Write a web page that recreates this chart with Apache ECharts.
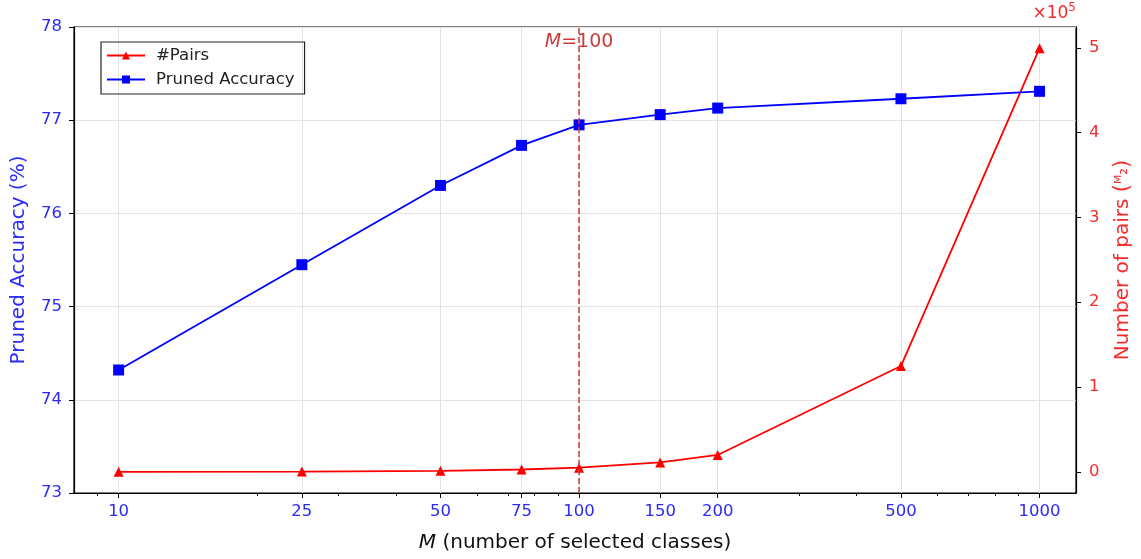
<!DOCTYPE html>
<html><head><meta charset="utf-8">
<script src="https://cdn.jsdelivr.net/npm/echarts@6/dist/echarts.min.js"></script>
<style>html,body{margin:0;padding:0;background:#fff}#c{width:1141px;height:559px}</style>
</head><body><div id="c"></div>
<script>
const M_VALUES = [10, 25, 50, 75, 100, 150, 200, 500, 1000];
const ACCURACY = [74.32, 75.45, 76.30, 76.73, 76.95, 77.06, 77.13, 77.23, 77.31];
const PAIRS = [45, 300, 1225, 2775, 4950, 11175, 19900, 124750, 499500];
const X_TICKS = [10, 25, 50, 75, 100, 150, 200, 500, 1000];
const X_MINOR = [9, 20, 30, 40, 60, 70, 80, 90, 300, 400, 600, 700, 800, 900];
const ACC_TICKS = [73, 74, 75, 76, 77, 78];
const PAIR_TICKS = [0, 100000, 200000, 300000, 400000, 500000];
const MARK_M = 100;

const FONT = 'DejaVu Sans';
const BLUE = '#0000ff';
const BLUE_TEXT = '#2b2bf5';
const RED = '#ff0000';
const RED_TEXT = '#f52b2b';
const MARK_COLOR = '#cc3c3c';
const TICK_FS = 16.5;
const TITLE_FS = 20;

const chart = echarts.init(document.getElementById('c'), null, {renderer: 'canvas'});

const accData = M_VALUES.map((m, i) => [m, ACCURACY[i]]);
const pairData = M_VALUES.map((m, i) => [m, PAIRS[i]]);

const option = {
  animation: false,
  textStyle: {fontFamily: FONT},
  grid: {left: 74, right: 64, top: 27, bottom: 66, show: true, borderColor: '#000', borderWidth: 1.2, containLabel: false},
  legend: {
    orient: 'vertical', left: 101, top: 42,
    data: ['#Pairs', 'Pruned Accuracy'],
    borderColor: '#222', borderWidth: 1.2, borderRadius: 0,
    padding: [5, 10, 6, 5], itemGap: 7,
    itemWidth: 38, itemHeight: 10,
    textStyle: {fontFamily: FONT, fontSize: TICK_FS, color: '#222', padding: [0, 0, 0, 6]}
  },
  xAxis: [{
    type: 'log', logBase: 10, min: 8, max: 1200, gridIndex: 0,
    name: '{i|M} (number of selected classes)', nameLocation: 'middle', nameGap: 40,
    nameTextStyle: {fontFamily: FONT, fontSize: TITLE_FS, color: '#111',
      rich: {i: {fontFamily: FONT, fontSize: TITLE_FS, fontStyle: 'italic', color: '#111'}}},
    axisLine: {show: true, onZero: false, lineStyle: {color: '#000', width: 1.2}},
    axisTick: {show: true, length: 5, lineStyle: {color: '#000'}, customValues: X_TICKS},
    axisLabel: {show: true, color: BLUE_TEXT, fontSize: TICK_FS, fontFamily: FONT, margin: 10, customValues: X_TICKS,
      formatter: v => String(Math.round(v))},
    splitLine: {show: true, lineStyle: {color: '#e3e3e3', width: 1}},
    minorTick: {show: false}, minorSplitLine: {show: false}
  }, {
    type: 'log', logBase: 10, min: 8, max: 1200, gridIndex: 0, position: 'bottom',
    axisLine: {show: false, onZero: false},
    axisTick: {show: true, length: 3, lineStyle: {color: '#000'}, customValues: X_MINOR},
    axisLabel: {show: false},
    splitLine: {show: false}
  }],
  yAxis: [{
    type: 'value', min: 73, max: 78, interval: 1, position: 'left',
    name: 'Pruned Accuracy (%)', nameLocation: 'middle', nameGap: 45, nameRotate: 90,
    nameTextStyle: {fontFamily: FONT, fontSize: TITLE_FS, color: BLUE_TEXT},
    axisLine: {show: true, onZero: false, lineStyle: {color: '#000', width: 1.2}},
    axisTick: {show: true, length: 5, lineStyle: {color: '#000'}},
    axisLabel: {color: BLUE_TEXT, fontSize: TICK_FS, fontFamily: FONT, margin: 12},
    splitLine: {show: true, lineStyle: {color: '#e3e3e3', width: 1}}
  }, {
    type: 'value', min: -24927.75, max: 524472.75, position: 'right',
    name: '{a|Number of pairs }{b|(}{c|ᴹ₂}{b|)}', nameLocation: 'middle', nameGap: 36, nameRotate: 90,
    nameTextStyle: {fontFamily: FONT, fontSize: TITLE_FS, color: RED_TEXT,
      rich: {a: {fontFamily: FONT, fontSize: TITLE_FS, color: RED_TEXT},
             b: {fontFamily: FONT, fontSize: 21, color: RED_TEXT},
             c: {fontFamily: FONT, fontSize: 17, color: RED_TEXT}}},
    axisLine: {show: true, onZero: false, lineStyle: {color: '#000', width: 1.2}},
    axisTick: {show: true, length: 5, lineStyle: {color: '#000'}, customValues: PAIR_TICKS},
    axisLabel: {color: RED_TEXT, fontSize: TICK_FS, fontFamily: FONT, margin: 13, customValues: PAIR_TICKS,
      formatter: v => String(Math.round(v / 100000))},
    splitLine: {show: false}
  }],
  graphic: [{
    type: 'text', right: 65, top: 2,
    style: {text: '{a|×10}{b|5}', fill: RED_TEXT,
      rich: {a: {fontFamily: FONT, fontSize: 17, fill: RED_TEXT, verticalAlign: 'bottom'},
             b: {fontFamily: FONT, fontSize: 12, fill: RED_TEXT, verticalAlign: 'top', padding: [0, 0, 8, 0]}}}
  }],
  series: [{
    name: '#Pairs', type: 'line', xAxisIndex: 0, yAxisIndex: 1, data: pairData,
    symbol: 'triangle', symbolSize: 10, color: RED,
    lineStyle: {color: RED, width: 1.8}, itemStyle: {color: RED}, z: 3
  }, {
    name: 'Pruned Accuracy', type: 'line', xAxisIndex: 0, yAxisIndex: 0, data: accData,
    symbol: 'rect', symbolSize: 11, color: BLUE,
    lineStyle: {color: BLUE, width: 1.8}, itemStyle: {color: BLUE}, z: 4,
    markLine: {
      silent: true, symbol: 'none',
      lineStyle: {color: MARK_COLOR, type: [6, 3], width: 1.5},
      label: {show: false},
      data: [{xAxis: MARK_M}]
    },
    markPoint: {
      silent: true, symbol: 'circle', symbolSize: 0,
      data: [{coord: [MARK_M, 77.84], value: MARK_M}],
      label: {show: true, position: 'inside', formatter: '{i|M}{n|=' + MARK_M + '}',
        rich: {i: {fontFamily: FONT, fontSize: 19, fontStyle: 'italic', color: MARK_COLOR},
               n: {fontFamily: FONT, fontSize: 19, color: MARK_COLOR}}}
    }
  }]
};
chart.setOption(option);
</script>
</body></html>
